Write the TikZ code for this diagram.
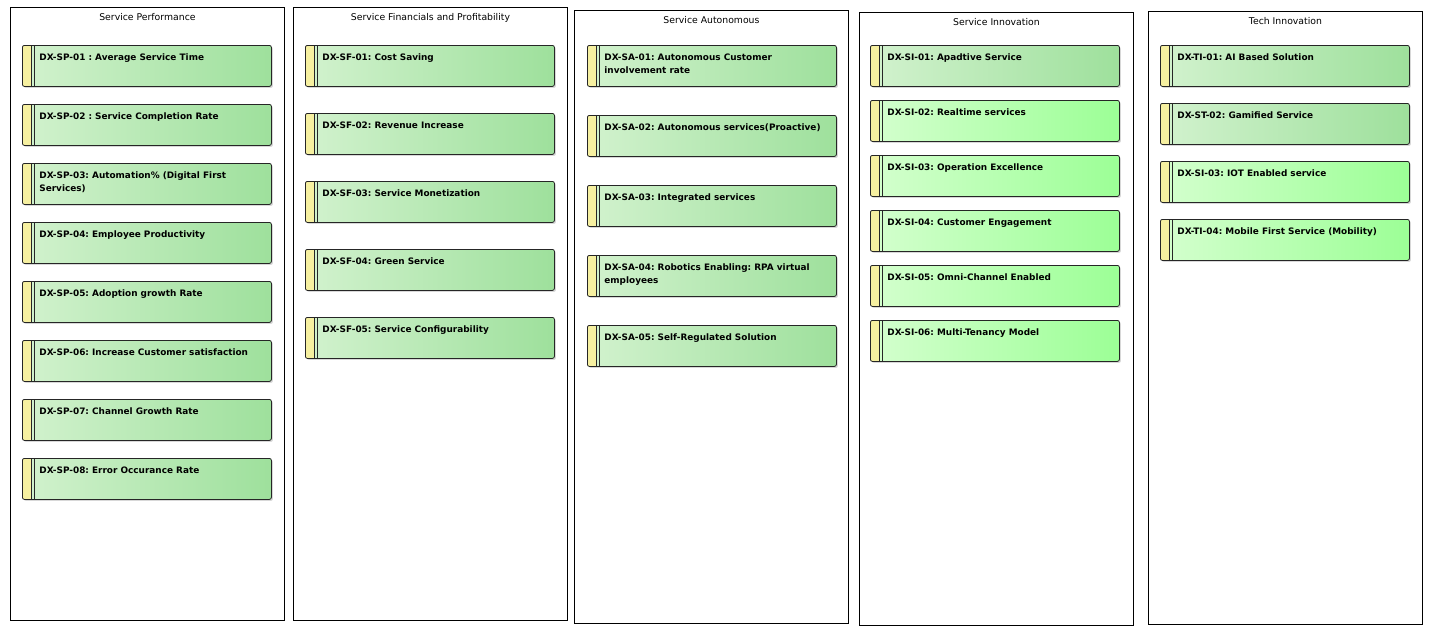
\documentclass[tikz,border=0pt]{standalone}
\usepackage{fontspec}
\setmainfont{DejaVu Sans}
\usepackage{tikz}
\usetikzlibrary{positioning}
\usetikzlibrary{shadows}

\definecolor{kpiyellow}{RGB}{246,240,160}
\definecolor{kpileft}{RGB}{210,242,206}
\definecolor{kpiright}{RGB}{158,224,156}
\definecolor{kpibleft}{RGB}{212,255,206}
\definecolor{kpibright}{RGB}{156,255,150}

\frenchspacing
\newcommand{\kpitext}[1]{\hspace*{15pt}\parbox[t][25pt][t]{230pt}{\raggedright\rightskip=10pt plus 1fil\relax
  \hyphenpenalty=10000 \exhyphenpenalty=10000 #1}}

\tikzset{
  lane/.style={draw=black,line width=0.9pt,fill=white,anchor=north west,
    minimum width=274pt,minimum height=613pt,inner sep=0pt},
  lanetitle/.style={anchor=north,inner sep=0pt,font=\fontsize{9.3}{11}\selectfont},
  kpi/.style={draw=black!85,line width=0.8pt,rounded corners=2pt,anchor=north west,
    left color=kpileft,right color=kpiright,
    inner xsep=2pt,inner ysep=8pt,minimum width=249pt,minimum height=41pt,
    font=\fontsize{8.9}{13}\selectfont\bfseries,
    drop shadow={shadow xshift=1.5pt,shadow yshift=-1.5pt,opacity=0.3},
    path picture={
      \fill[kpiyellow] (path picture bounding box.north west) rectangle
        ([xshift=9pt]path picture bounding box.south west);
      \draw[line width=0.9pt] ([xshift=9pt]path picture bounding box.north west) --
        ([xshift=9pt]path picture bounding box.south west);
      \draw[line width=0.9pt] ([xshift=11.6pt]path picture bounding box.north west) --
        ([xshift=11.6pt]path picture bounding box.south west);
    }},
  kpibright/.style={kpi,left color=kpibleft,right color=kpibright}
}

\begin{document}
\begin{tikzpicture}[x=1pt,y=-1pt]
  \useasboundingbox (0,0) rectangle (1432,635);

  % lanes
  \foreach \x/\y/\lname/\ltitle in {
      10/7/sp/Service Performance,
      293/7/sf/Service Financials and Profitability,
      574/10/sa/Service Autonomous,
      859/12/si/Service Innovation,
      1148/11/ti/Tech Innovation
  }{
    \node[lane] (\lname) at (\x,\y) {};
    \node[lanetitle] (\lname-title) at ([yshift=-6pt]\lname.north) {\ltitle};
  }

  % Service Performance
  \foreach \i/\txt in {
      1/DX-SP-01 : Average Service Time,
      2/DX-SP-02 : Service Completion Rate,
      3/DX-SP-03: Automation\% (Digital First Services),
      4/DX-SP-04: Employee Productivity,
      5/DX-SP-05: Adoption growth Rate,
      6/DX-SP-06: Increase Customer satisfaction,
      7/DX-SP-07: Channel Growth Rate,
      8/DX-SP-08: Error Occurance Rate
  }{
    \node[kpi] (sp\i) at (22,{45+59*(\i-1)}) {\kpitext{\txt}};
  }

  % Service Financials and Profitability
  \foreach \i/\txt in {
      1/DX-SF-01: Cost Saving,
      2/DX-SF-02: Revenue Increase,
      3/DX-SF-03: Service Monetization,
      4/DX-SF-04: Green Service,
      5/DX-SF-05: Service Configurability
  }{
    \node[kpi] (sf\i) at (305,{45+68*(\i-1)}) {\kpitext{\txt}};
  }

  % Service Autonomous
  \foreach \i/\txt in {
      1/DX-SA-01: Autonomous Customer involvement rate,
      2/DX-SA-02: Autonomous services(Proactive),
      3/DX-SA-03: Integrated services,
      4/DX-SA-04: Robotics Enabling: RPA virtual employees,
      5/DX-SA-05: Self-Regulated Solution
  }{
    \node[kpi] (sa\i) at (587,{45+70*(\i-1)}) {\kpitext{\txt}};
  }

  % Service Innovation
  \foreach \i/\sty/\txt in {
      1/kpi/DX-SI-01: Apadtive Service,
      2/kpibright/DX-SI-02: Realtime services,
      3/kpibright/DX-SI-03: Operation Excellence,
      4/kpibright/DX-SI-04: Customer Engagement,
      5/kpibright/DX-SI-05: Omni-Channel Enabled,
      6/kpibright/DX-SI-06: Multi-Tenancy Model
  }{
    \node[\sty] (si\i) at (870,{45+55*(\i-1)}) {\kpitext{\txt}};
  }

  % Tech Innovation
  \foreach \i/\sty/\txt in {
      1/kpi/DX-TI-01: AI Based Solution,
      2/kpi/DX-ST-02: Gamified Service,
      3/kpibright/DX-SI-03: IOT Enabled service,
      4/kpibright/DX-TI-04: Mobile First Service (Mobility)
  }{
    \node[\sty] (ti\i) at (1160,{45+58*(\i-1)}) {\kpitext{\txt}};
  }
\end{tikzpicture}
\end{document}
